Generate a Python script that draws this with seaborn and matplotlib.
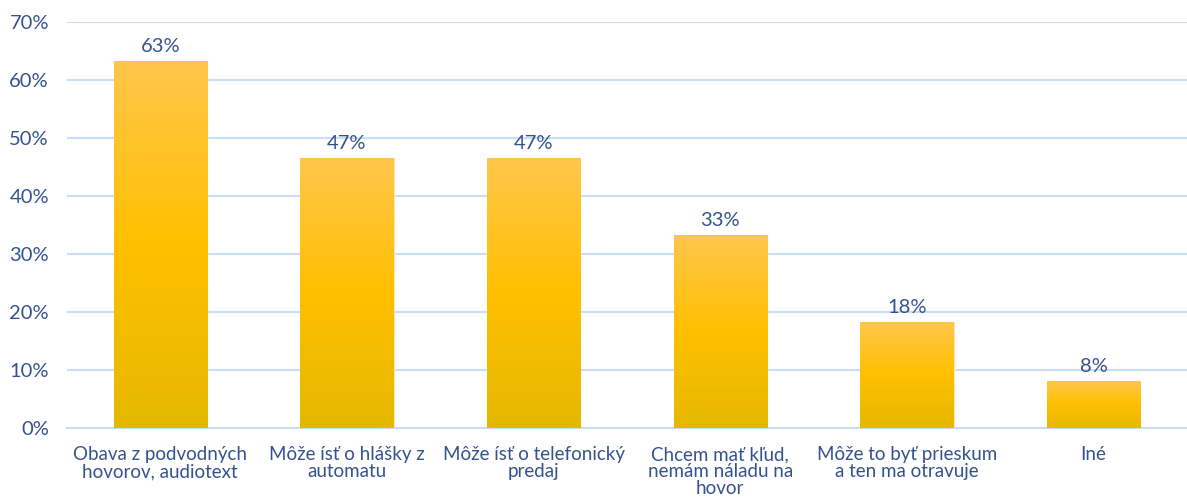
import numpy as np
import pandas as pd
import matplotlib
matplotlib.use("Agg")
import matplotlib.pyplot as plt
import seaborn as sns
from matplotlib.colors import LinearSegmentedColormap

categories = [
    "Obava z podvodných\nhovorov, audiotext",
    "Môže ísť o hlášky z\nautomatu",
    "Môže ísť o telefonický\npredaj",
    "Chcem mať kľud,\nnemám náladu na\nhovor",
    "Môže to byť prieskum\na ten ma otravuje",
    "Iné",
]
values = [0.633, 0.466, 0.466, 0.333, 0.183, 0.081]
tick_values = [0.0, 0.1, 0.2, 0.3, 0.4, 0.5, 0.6, 0.7]
tick_labels = ["0%", "10%", "20%", "30%", "40%", "50%", "60%", "70%"]

df = pd.DataFrame({"cat": categories, "val": values})

sns.set_theme(style="white")
plt.rcParams["font.family"] = ["Lato", "DejaVu Sans"]
text_color = "#34528F"
grid_color = "#C9DDF5"

fig = plt.figure(figsize=(11.87, 4.98), dpi=100)
ax = fig.add_axes([0.0564, 0.1406, 0.9436, 0.8152])

sns.barplot(data=df, x="cat", y="val", color="#FFC000", width=0.5, ax=ax,
            edgecolor="#FFE9A8", linewidth=0.8, zorder=3)

cmap = LinearSegmentedColormap.from_list("g", ["#E5B800", "#FFC000", "#FFC64C"])
grad = np.linspace(0, 1, 256).reshape(-1, 1)
for p in ax.patches:
    x0, y0 = p.get_x(), p.get_y()
    w, h = p.get_width(), p.get_height()
    im = ax.imshow(grad, cmap=cmap, origin="lower", aspect="auto",
                   extent=[x0, x0 + w, y0, y0 + h], zorder=3.5)
    im.set_clip_path(p)

ax.set_xlim(-0.5, 5.5)
ax.set_ylim(0, 0.7)
ax.set_yticks(tick_values)
ax.set_yticklabels(tick_labels)
ax.yaxis.grid(True, color=grid_color, linewidth=1.5, zorder=0)
ax.set_axisbelow(True)
for s in ["top", "right", "left"]:
    ax.spines[s].set_visible(False)
ax.spines["bottom"].set_color(grid_color)
ax.spines["bottom"].set_linewidth(1.5)
ax.tick_params(axis="x", length=0, labelsize=13.5, colors=text_color, pad=13)
ax.tick_params(axis="y", length=0, labelsize=14.5, colors=text_color, pad=13)
for lab in ax.get_xticklabels():
    lab.set_multialignment("center")
    lab.set_linespacing(1.0)
ax.set_xlabel("")
ax.set_ylabel("")

for i, v in enumerate(values):
    ax.text(i, v + 0.010, f"{round(v*100):d}%", ha="center", va="bottom",
            fontsize=14.5, color=text_color)

fig.savefig("out.png", dpi=100)
